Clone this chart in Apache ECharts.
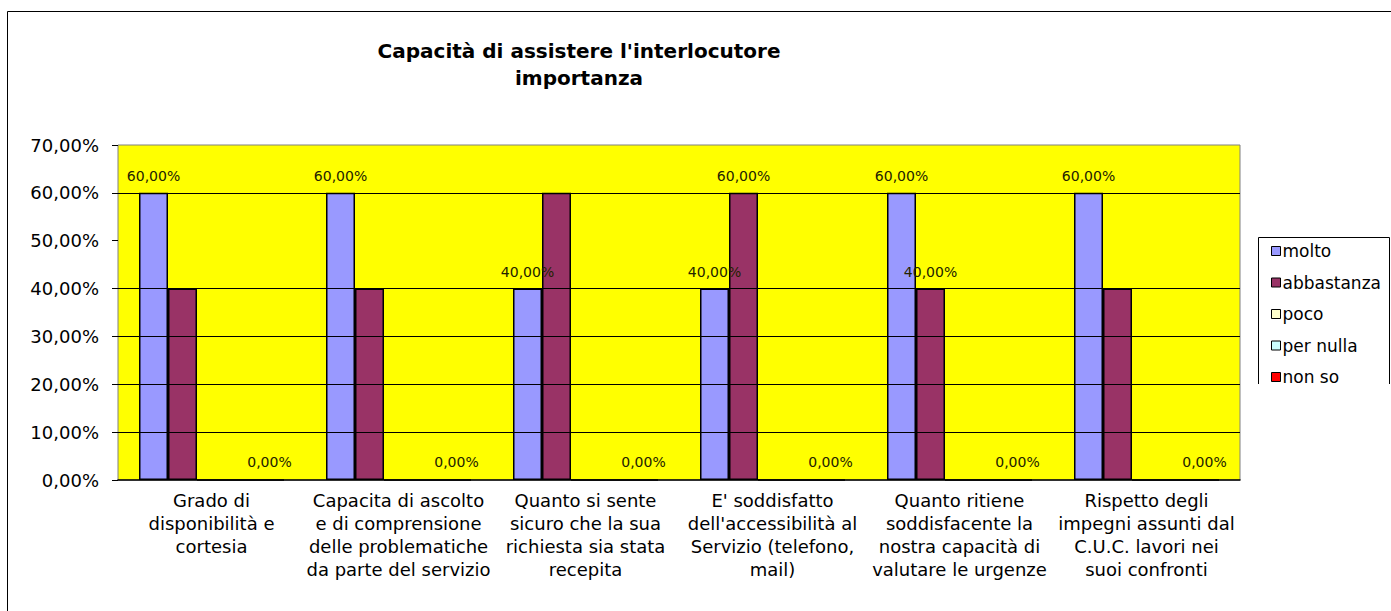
<!DOCTYPE html>
<html>
	<head>
		<meta charset="UTF-8">
		<title>Capacità di assistere l'interlocutore</title>
		<script src="https://cdn.jsdelivr.net/npm/echarts@6/dist/echarts.min.js" type="text/javascript"></script>
		<style type="text/css">
		  html, body{
		  	margin: 0;
		  	padding: 0;
		  	background: #fff;
		  }
		  #chart{
		  	width: 1391px;
		  	height: 611px;
		  }
		</style>
	</head>
	<body>
	  <div id="chart"></div>
	  <script type="text/javascript">
	  	// dati
	  	var categorie = [
	  	  'Grado di\ndisponibilità e\ncortesia',
	  	  'Capacita di ascolto\ne di comprensione\ndelle problematiche\nda parte del servizio',
	  	  'Quanto si sente\nsicuro che la sua\nrichiesta sia stata\nrecepita',
	  	  'E\' soddisfatto\ndell\'accessibilità al\nServizio (telefono,\nmail)',
	  	  'Quanto ritiene\nsoddisfacente la\nnostra capacità di\nvalutare le urgenze',
	  	  'Rispetto degli\nimpegni assunti dal\nC.U.C. lavori nei\nsuoi confronti'
	  	];
	  	var molto       = [60, 60, 40, 40, 60, 60];
	  	var abbastanza  = [40, 40, 60, 60, 40, 40];
	  	var poco        = [0, 0, 0, 0, 0, 0];
	  	var perNulla    = [0, 0, 0, 0, 0, 0];
	  	var nonSo       = [0, 0, 0, 0, 0, 0];
	  	// etichette visibili nel grafico originale
	  	var etichetteMolto      = [1, 1, 1, 1, 1, 1];
	  	var etichetteAbbastanza = [0, 0, 0, 1, 1, 0];
	  	var etichettePoco       = [0, 0, 0, 0, 0, 0];
	  	var etichettePerNulla   = [0, 0, 0, 0, 0, 0];
	  	var etichetteNonSo      = [1, 1, 1, 1, 1, 1];
	  	// linee della griglia presenti
	  	var griglia = [10, 20, 30, 40, 60];

	  	var font = 'DejaVu Sans';

	  	function percento(v){
	  	  return v.toFixed(2).replace('.', ',') + '%';
	  	}

	  	function serie(nome, valori, etichette, colore){
	  	  return {
	  	  	name: nome,
	  	  	type: 'bar',
	  	  	z: 2,
	  	  	barWidth: 29,
	  	  	barGap: '0%',
	  	  	itemStyle: {
	  	  	  color: colore,
	  	  	  borderColor: '#000',
	  	  	  borderWidth: 1.5
	  	  	},
	  	  	label: {
	  	  	  position: 'top',
	  	  	  distance: 10,
	  	  	  fontFamily: font,
	  	  	  fontSize: 14,
	  	  	  color: '#222200',
	  	  	  formatter: function(p){ return percento(p.value); }
	  	  	},
	  	  	data: valori.map(function(v, i){
	  	  	  return { value: v, label: { show: !!etichette[i] } };
	  	  	})
	  	  };
	  	}

	  	var chart = echarts.init(document.getElementById('chart'), null, { renderer: 'svg' });
	  	chart.setOption({
	  	  animation: false,
	  	  backgroundColor: '#fff',
	  	  title: {
	  	  	text: 'Capacità di assistere l\'interlocutore\nimportanza',
	  	  	left: 574,
	  	  	top: 32,
	  	  	textAlign: 'center',
	  	  	textStyle: {
	  	  	  fontFamily: font,
	  	  	  fontSize: 20,
	  	  	  fontWeight: 'bold',
	  	  	  color: '#000',
	  	  	  lineHeight: 27
	  	  	}
	  	  },
	  	  legend: {
	  	  	orient: 'vertical',
	  	  	left: 1266,
	  	  	top: 237,
	  	  	itemWidth: 9,
	  	  	itemHeight: 9,
	  	  	itemGap: 13.5,
	  	  	icon: 'rect',
	  	  	data: ['molto', 'abbastanza', 'poco', 'per nulla', 'non so'],
	  	  	itemStyle: { borderColor: '#000', borderWidth: 1 },
	  	  	textStyle: {
	  	  	  fontFamily: font,
	  	  	  fontSize: 17,
	  	  	  lineHeight: 18,
	  	  	  color: '#000',
	  	  	  padding: [0, 0, 0, -3]
	  	  	}
	  	  },
	  	  grid: {
	  	  	left: 118,
	  	  	right: 151,
	  	  	top: 145,
	  	  	bottom: 131,
	  	  	show: true,
	  	  	backgroundColor: '#ffff00',
	  	  	borderColor: '#808080',
	  	  	borderWidth: 1
	  	  },
	  	  xAxis: {
	  	  	type: 'category',
	  	  	data: categorie,
	  	  	axisLine: { lineStyle: { color: '#000', width: 1.5 } },
	  	  	axisTick: { length: 6, lineStyle: { color: '#808080' } },
	  	  	axisLabel: {
	  	  	  interval: 0,
	  	  	  margin: 9,
	  	  	  fontFamily: font,
	  	  	  fontSize: 18,
	  	  	  lineHeight: 23,
	  	  	  color: '#000',
	  	  	  align: 'center'
	  	  	}
	  	  },
	  	  yAxis: {
	  	  	type: 'value',
	  	  	min: 0,
	  	  	max: 70,
	  	  	interval: 10,
	  	  	axisLine: { show: false },
	  	  	axisTick: { show: true, length: 6, lineStyle: { color: '#000' } },
	  	  	splitLine: { show: false },
	  	  	axisLabel: {
	  	  	  margin: 19,
	  	  	  fontFamily: font,
	  	  	  fontSize: 18,
	  	  	  color: '#000',
	  	  	  formatter: percento
	  	  	}
	  	  },
	  	  graphic: [
	  	  	{
	  	  	  type: 'polyline',
	  	  	  silent: true,
	  	  	  shape: { points: [[7.5, 611], [7.5, 11.5], [1391, 11.5]] },
	  	  	  style: { stroke: '#000', lineWidth: 1, fill: null }
	  	  	},
	  	  	{
	  	  	  type: 'polyline',
	  	  	  silent: true,
	  	  	  shape: { points: [[1258.5, 384], [1258.5, 237.5], [1389.5, 237.5], [1389.5, 384]] },
	  	  	  style: { stroke: '#000', lineWidth: 1, fill: null }
	  	  	}
	  	  ],
	  	  series: [
	  	  	{
	  	  	  type: 'line',
	  	  	  z: 1,
	  	  	  silent: true,
	  	  	  data: [],
	  	  	  markLine: {
	  	  	  	silent: true,
	  	  	  	symbol: 'none',
	  	  	  	label: { show: false },
	  	  	  	lineStyle: { color: '#000', width: 1, type: 'solid' },
	  	  	  	data: griglia.map(function(v){ return { yAxis: v }; })
	  	  	  }
	  	  	},
	  	  	serie('molto', molto, etichetteMolto, '#9999ff'),
	  	  	serie('abbastanza', abbastanza, etichetteAbbastanza, '#993366'),
	  	  	serie('poco', poco, etichettePoco, '#ffffcc'),
	  	  	serie('per nulla', perNulla, etichettePerNulla, '#ccffff'),
	  	  	serie('non so', nonSo, etichetteNonSo, '#ff0000')
	  	  ]
	  	});
	  </script>
	</body>
</html>
